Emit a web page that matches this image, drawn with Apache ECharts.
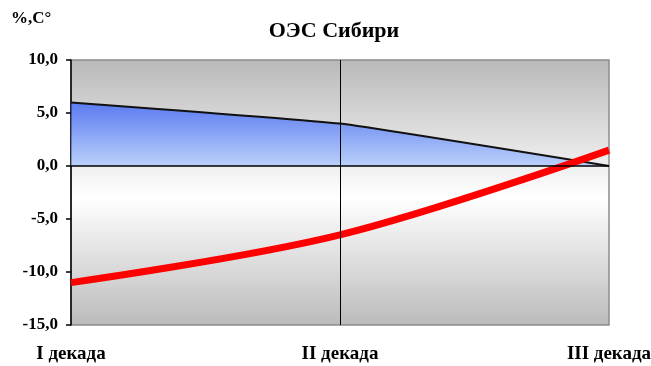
<!DOCTYPE html>
<html><head><meta charset="utf-8">
<script src="https://cdn.jsdelivr.net/npm/echarts@6/dist/echarts.min.js"></script>
<style>html,body{margin:0;padding:0;background:#fff}#c{width:651px;height:366px}</style>
</head><body><div id="c"></div>
<script>
const categories = ['I декада', 'II декада', 'III декада'];
const deviation = [6.0, 4.0, 0.0];
const temperature = [-11.0, -6.5, 1.5];
const yTicks = { min: -15, max: 10, interval: 5 };
const unitLabel = '%,C°';
const titleText = 'ОЭС Сибири';

const serif = '"Liberation Serif", "DejaVu Serif", serif';
const chart = echarts.init(document.getElementById('c'), null, { renderer: 'canvas' });
chart.setOption({
  animation: false,
  title: {
    text: titleText, left: 329, top: 15, textAlign: 'center',
    textStyle: { fontFamily: serif, fontWeight: 'bold', fontSize: 22, color: '#000' }
  },
  graphic: [{
    type: 'text', left: 11, top: 10,
    style: { text: unitLabel, font: 'bold 17px ' + serif, fill: '#000' }
  }],
  grid: {
    left: 71, right: 42, top: 60, bottom: 41, show: true,
    containLabel: false, outerBoundsMode: 'none',
    borderColor: '#8c8c8c', borderWidth: 1.5,
    backgroundColor: {
      type: 'linear', x: 0, y: 0, x2: 0, y2: 1,
      colorStops: [
        { offset: 0, color: '#b9b9b9' },
        { offset: 0.52, color: '#ffffff' },
        { offset: 1, color: '#bbbbbb' }
      ]
    }
  },
  xAxis: {
    type: 'category', data: categories, boundaryGap: false,
    axisLine: { show: false, onZero: false },
    axisTick: { show: false },
    splitLine: { show: false },
    axisLabel: {
      margin: 20, interval: 0, hideOverlap: false,
      fontFamily: serif, fontWeight: 'bold', fontSize: 19, color: '#000'
    }
  },
  yAxis: {
    type: 'value', min: yTicks.min, max: yTicks.max, interval: yTicks.interval,
    axisLine: { show: true, lineStyle: { color: '#000', width: 1.5 } },
    axisTick: { show: true, length: 5, lineStyle: { color: '#000', width: 1.5 } },
    splitLine: { show: false },
    axisLabel: {
      margin: 13, fontFamily: serif, fontWeight: 'bold', fontSize: 17, color: '#000',
      formatter: function (v) { return v.toFixed(1).replace('.', ','); }
    }
  },
  series: [
    {
      type: 'line', data: deviation, smooth: 0.1, symbol: 'none',
      lineStyle: { color: '#111', width: 2 },
      areaStyle: {
        origin: 0,
        color: {
          type: 'linear', x: 0, y: 0, x2: 0, y2: 1,
          colorStops: [
            { offset: 0, color: '#2856ff' },
            { offset: 1, color: '#a4c3ff' }
          ]
        }
      },
      markLine: {
        silent: true, symbol: 'none', label: { show: false },
        data: [
          { yAxis: 0, lineStyle: { color: '#000', width: 1.5, type: 'solid' } },
          { xAxis: 'II декада', lineStyle: { color: '#000', width: 1, type: 'solid' } }
        ]
      },
      z: 2
    },
    {
      type: 'line', data: temperature, smooth: 0.35, symbol: 'none',
      lineStyle: { color: '#ff0000', width: 7 },
      z: 3
    }
  ]
});
</script></body></html>
